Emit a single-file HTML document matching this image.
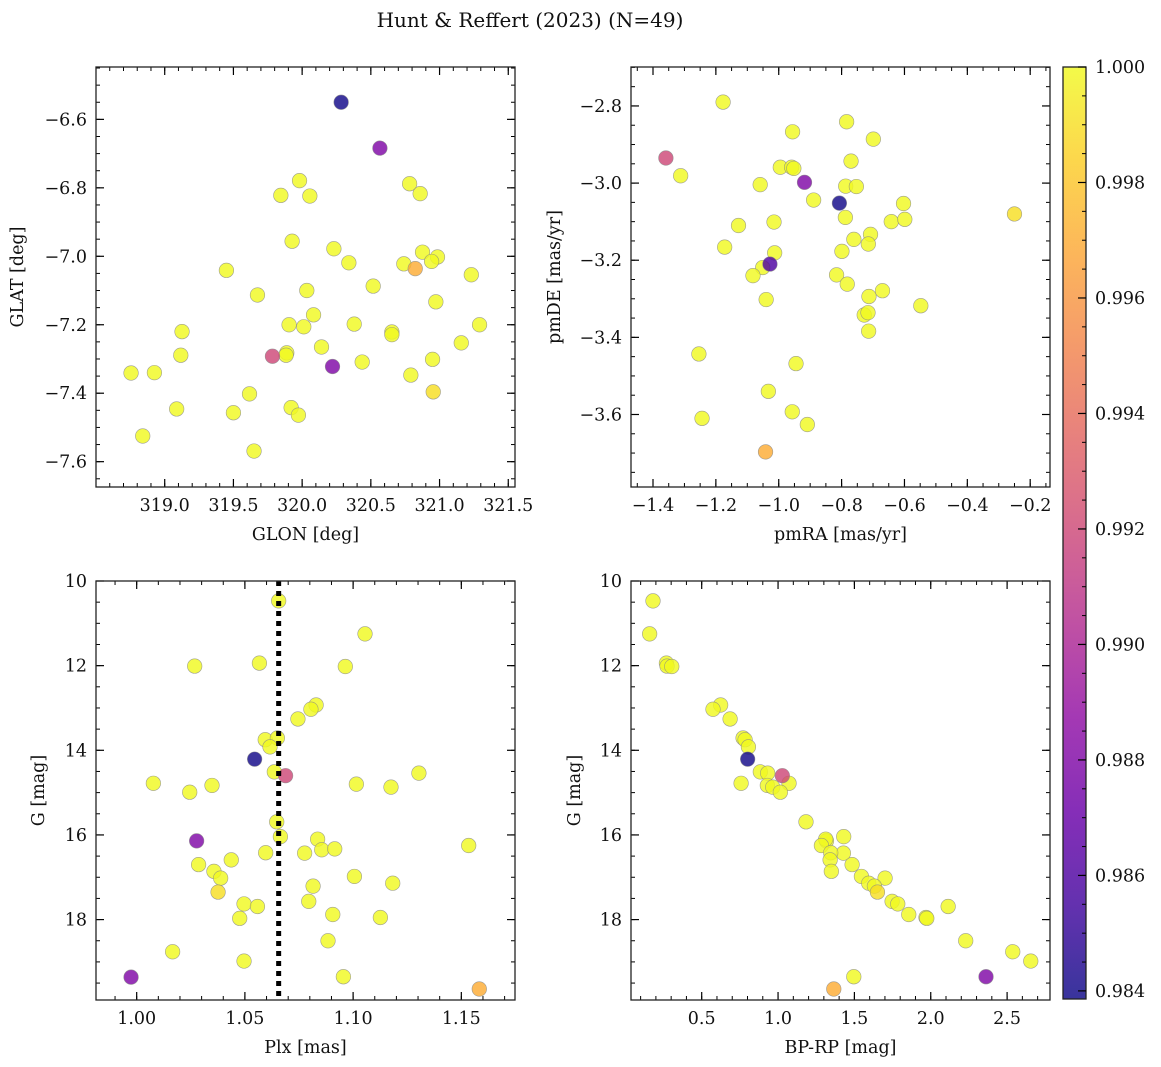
<!DOCTYPE html>
<html><head><meta charset="utf-8"><style>
html,body{margin:0;padding:0;background:#fff;}
svg{display:block;font-family:"DejaVu Serif","Liberation Serif",serif;}
</style></head><body>
<svg id="fig" width="1161" height="1067" viewBox="0 0 1161 1067">
<text x="530" y="27" font-size="20" text-anchor="middle" fill="#111">Hunt &amp; Reffert (2023) (N=49)</text>
</svg>
<script>
// ---- data ----
// Panel 1: GLON / GLAT / prob
const glon = [320.284,320.566,319.981,319.845,320.056,320.782,320.859,319.927,320.231,320.340,320.876,320.985,320.942,320.740,320.823,319.449,321.231,320.517,320.034,319.675,320.973,320.083,319.905,320.012,320.379,321.291,319.126,320.653,320.653,320.141,321.158,319.117,319.784,319.888,319.883,320.221,320.437,320.949,318.755,318.925,320.791,319.617,320.954,319.087,319.500,319.920,319.973,318.840,319.650];
const glat = [-6.550,-6.684,-6.779,-6.822,-6.824,-6.788,-6.817,-6.956,-6.978,-7.019,-6.988,-7.002,-7.015,-7.022,-7.036,-7.041,-7.054,-7.087,-7.100,-7.113,-7.133,-7.171,-7.200,-7.206,-7.198,-7.200,-7.220,-7.221,-7.229,-7.265,-7.253,-7.289,-7.292,-7.282,-7.289,-7.322,-7.309,-7.301,-7.341,-7.340,-7.347,-7.402,-7.396,-7.446,-7.457,-7.442,-7.464,-7.525,-7.569];
const prob1 = [0.984,0.988,1,1,1,1,1,1,1,1,1,1,1,1,0.997,1,1,1,1,1,1,1,1,1,1,1,1,1,1,1,1,1,0.992,1,1,0.988,1,1,1,1,1,1,0.999,1,1,1,1,1,1];
// Panel 2: pmRA / pmDE / prob
const pmra = [-1.177,-0.784,-0.956,-0.699,-1.359,-0.770,-1.312,-0.995,-0.959,-0.952,-0.918,-1.059,-0.787,-0.753,-0.889,-0.807,-0.603,-0.250,-0.788,-1.128,-1.015,-0.642,-0.599,-0.708,-0.761,-0.715,-1.172,-0.799,-1.013,-1.028,-1.051,-1.082,-0.816,-0.782,-0.670,-0.713,-1.040,-0.548,-0.728,-0.716,-0.714,-1.254,-0.945,-1.033,-0.957,-1.244,-0.909,-1.042];
const pmde = [-2.790,-2.841,-2.867,-2.886,-2.935,-2.943,-2.981,-2.959,-2.959,-2.962,-2.998,-3.004,-3.008,-3.009,-3.044,-3.052,-3.053,-3.080,-3.089,-3.110,-3.101,-3.100,-3.094,-3.133,-3.146,-3.158,-3.166,-3.177,-3.181,-3.210,-3.219,-3.240,-3.238,-3.262,-3.279,-3.294,-3.302,-3.318,-3.342,-3.336,-3.384,-3.443,-3.468,-3.540,-3.593,-3.610,-3.626,-3.697];
const prob2 = [1,1,1,1,0.992,1,1,1,1,1,0.988,1,1,1,1,0.984,1,0.999,1,1,1,1,1,1,1,1,1,1,1,0.986,1,1,1,1,1,1,1,1,1,1,1,1,1,1,1,1,1,0.997];
// Panel 3: Plx / G / prob
const plx = [1.0656,1.1055,1.0268,1.0567,1.0964,1.0829,1.0805,1.0745,1.0594,1.0650,1.0616,1.0545,1.0636,1.0688,1.0077,1.0348,1.0245,1.1015,1.1175,1.1304,1.0647,1.0664,1.0277,1.0836,1.0855,1.0915,1.0776,1.0596,1.1534,1.0437,1.0286,1.0357,1.0388,1.0376,1.1006,1.1183,1.0815,1.0496,1.0558,1.0795,1.0476,1.0906,1.1126,1.0884,1.0166,1.0496,1.0955,0.9974,1.1583];
const gmag3 = [10.47,11.25,12.01,11.94,12.02,12.93,13.03,13.26,13.75,13.71,13.92,14.21,14.51,14.60,14.78,14.83,14.99,14.80,14.87,14.54,15.69,16.04,16.14,16.10,16.35,16.33,16.43,16.42,16.25,16.59,16.70,16.86,17.02,17.35,16.98,17.14,17.21,17.63,17.69,17.57,17.97,17.88,17.95,18.50,18.76,18.98,19.35,19.36,19.64];
const prob3 = [1,1,1,1,1,1,1,1,1,1,1,0.984,1,0.992,1,1,1,1,1,1,1,1,0.988,1,1,1,1,1,1,1,1,1,1,0.999,1,1,1,1,1,1,1,1,1,1,1,1,1,0.988,0.997];
const plxRef = [1.0656];
// Panel 4: BP-RP / G / prob
const bprp = [0.181,0.159,0.269,0.273,0.304,0.624,0.574,0.686,0.771,0.784,0.806,0.801,0.884,1.028,0.758,0.932,0.930,0.965,1.072,1.015,1.183,1.317,1.312,1.430,1.284,1.428,1.345,1.341,1.485,1.349,1.546,1.701,1.594,1.631,1.651,1.747,1.784,2.114,1.856,1.969,1.974,2.229,2.537,2.655,1.496,2.362,1.365];
const gmag4 = [10.47,11.25,11.94,12.01,12.02,12.93,13.03,13.26,13.71,13.75,13.92,14.21,14.51,14.60,14.78,14.54,14.83,14.87,14.78,14.99,15.69,16.14,16.10,16.04,16.25,16.43,16.42,16.59,16.70,16.86,16.98,17.02,17.14,17.21,17.35,17.57,17.63,17.69,17.88,17.95,17.97,18.50,18.76,18.98,19.35,19.35,19.64];
const prob4 = [1,1,1,1,1,1,1,1,1,1,1,0.984,1,0.992,1,1,1,1,1,1,1,1,1,1,1,1,1,1,1,1,1,1,1,1,0.999,1,1,1,1,1,1,1,1,1,1,0.988,0.997];
// tick labels
const ticks1x = [319.0,319.5,320.0,320.5,321.0,321.5];
const ticks1y = [-6.6,-6.8,-7.0,-7.2,-7.4,-7.6];
const ticks2x = [-1.4,-1.2,-1.0,-0.8,-0.6,-0.4,-0.2];
const ticks2y = [-2.8,-3.0,-3.2,-3.4,-3.6];
const ticks3x = [1.00,1.05,1.10,1.15];
const ticksG = [10,12,14,16,18];
const ticks4x = [0.5,1.0,1.5,2.0,2.5];
const ticksCb = [1.000,0.998,0.996,0.994,0.992,0.990,0.988,0.986,0.984];

const NS="http://www.w3.org/2000/svg";
const svg=document.getElementById('fig');
const FS=17.5;
function mk(tag,attrs,parent){const e=document.createElementNS(NS,tag);for(const k in attrs)e.setAttribute(k,attrs[k]);(parent||svg).appendChild(e);return e;}
const VMIN=0.98386, VMAX=1.0;
const stops=[[0,[13,8,135]],[0.1,[65,4,157]],[0.2,[106,0,168]],[0.3,[143,13,164]],[0.4,[177,42,144]],[0.5,[204,71,120]],[0.6,[225,100,98]],[0.7,[242,132,75]],[0.8,[252,166,54]],[0.9,[252,206,37]],[1,[240,249,33]]];
function plasma(t){t=Math.max(0,Math.min(1,t));for(let i=1;i<stops.length;i++){if(t<=stops[i][0]){const a=stops[i-1],b=stops[i];const f=(t-a[0])/(b[0]-a[0]);const c=a[1].map((v,j)=>Math.round(v+(b[1][j]-v)*f));return `rgb(${c[0]},${c[1]},${c[2]})`;}}return 'rgb(240,249,33)';}
const fmt=(v,d)=>(v<0?'\u2212':'')+Math.abs(v).toFixed(d);

function panel(o){
  const g=mk('g',{});
  
  
  const sx=v=>o.x0+(v-o.xmin)/(o.xmax-o.xmin)*(o.x1-o.x0);
  const sy=o.yrev? v=>o.y0+(v-o.ymin)/(o.ymax-o.ymin)*(o.y1-o.y0) : v=>o.y1-(v-o.ymin)/(o.ymax-o.ymin)*(o.y1-o.y0);
  const idx=o.xs.map((_,i)=>i).sort((a,b)=>o.ps[b]-o.ps[a]);
  idx.forEach(i=>{
    const c=mk('circle',{cx:sx(o.xs[i]),cy:sy(o.ys[i]),r:7.3,fill:plasma((o.ps[i]-VMIN)/(VMAX-VMIN)),'fill-opacity':0.82,stroke:'#888','stroke-opacity':0.8,'stroke-width':0.6},g);
    
    
  });
  if(o.vline){
    const vl=mk('line',{x1:sx(o.vline[0]),x2:sx(o.vline[0]),y1:o.y0,y2:o.y1,stroke:'#000','stroke-width':5,'stroke-dasharray':'5 5'},g);
    
    
  }
  const tk=mk('g',{stroke:'#000','stroke-width':1},g);
  const minorX=[],minorY=[];
  for(let v=Math.ceil(o.xmin/o.mx-1e-6)*o.mx;v<=o.xmax+1e-9;v+=o.mx)minorX.push(v);
  for(let v=Math.ceil(o.ymin/o.my-1e-6)*o.my;v<=o.ymax+1e-9;v+=o.my)minorY.push(v);
  minorX.forEach(v=>{const x=sx(v);mk('line',{x1:x,x2:x,y1:o.y1,y2:o.y1-4},tk);mk('line',{x1:x,x2:x,y1:o.y0,y2:o.y0+4},tk);});
  minorY.forEach(v=>{const y=sy(v);mk('line',{x1:o.x0,x2:o.x0+4,y1:y,y2:y},tk);mk('line',{x1:o.x1,x2:o.x1-4,y1:y,y2:y},tk);});
  o.tx.forEach(v=>{const x=sx(v);mk('line',{x1:x,x2:x,y1:o.y1,y2:o.y1-8,'stroke-width':1.2},tk);mk('line',{x1:x,x2:x,y1:o.y0,y2:o.y0+8,'stroke-width':1.2},tk);
    const t=mk('text',{x:x,y:o.y1+24,'font-size':FS,'text-anchor':'middle',fill:'#111'},g);t.textContent=fmt(v,o.dx);
    
    });
  o.ty.forEach(v=>{const y=sy(v);mk('line',{x1:o.x0,x2:o.x0+8,y1:y,y2:y,'stroke-width':1.2},tk);mk('line',{x1:o.x1,x2:o.x1-8,y1:y,y2:y,'stroke-width':1.2},tk);
    const t=mk('text',{x:o.x0-9,y:y+6,'font-size':FS,'text-anchor':'end',fill:'#111'},g);t.textContent=fmt(v,o.dy);
    
    });
  const fr=mk('rect',{x:o.x0,y:o.y0,width:o.x1-o.x0,height:o.y1-o.y0,fill:'none',stroke:'#222','stroke-width':1.3},g);
  
  
  const xl=mk('text',{x:(o.x0+o.x1)/2,y:o.y1+53,'font-size':FS,'text-anchor':'middle',fill:'#111'},g);xl.textContent=o.xlab;
  
  
  const yl=mk('text',{x:0,y:0,'font-size':FS,'text-anchor':'middle',fill:'#111',transform:`translate(${o.ylx},${(o.y0+o.y1)/2}) rotate(-90)`},g);yl.textContent=o.ylab;
  
  
}
panel({name:'sky-position-panel',x0:96,x1:515,y0:67,y1:487,xmin:318.5,xmax:321.549,ymin:-7.674,ymax:-6.447,xs:glon,ys:glat,ps:prob1,tx:ticks1x,ty:ticks1y,dx:1,dy:1,mx:0.1,my:0.05,xlab:'GLON [deg]',ylab:'GLAT [deg]',ylx:23});
panel({name:'proper-motion-panel',x0:631,x1:1050,y0:67,y1:487,xmin:-1.47,xmax:-0.137,ymin:-3.788,ymax:-2.699,xs:pmra,ys:pmde,ps:prob2,tx:ticks2x,ty:ticks2y,dx:1,dy:1,mx:0.05,my:0.05,xlab:'pmRA [mas/yr]',ylab:'pmDE [mas/yr]',ylx:560});
panel({name:'parallax-magnitude-panel',x0:96,x1:515,y0:581,y1:1000,xmin:0.9812,xmax:1.1748,ymin:10.0,ymax:19.9,yrev:true,xs:plx,ys:gmag3,ps:prob3,tx:ticks3x,ty:ticksG,dx:2,dy:0,mx:0.01,my:0.5,xlab:'Plx [mas]',ylab:'G [mag]',ylx:44,vline:plxRef});
panel({name:'color-magnitude-panel',x0:631,x1:1050,y0:581,y1:1000,xmin:0.037,xmax:2.781,ymin:10.0,ymax:19.9,yrev:true,xs:bprp,ys:gmag4,ps:prob4,tx:ticks4x,ty:ticksG,dx:1,dy:0,mx:0.1,my:0.5,xlab:'BP-RP [mag]',ylab:'G [mag]',ylx:580});

// colorbar
const cb=mk('g',{});


const defs=mk('defs',{},cb);
const lg=mk('linearGradient',{id:'pl',x1:0,y1:1,x2:0,y2:0},defs);
for(let i=0;i<=20;i++){mk('stop',{offset:i/20,'stop-color':plasma(i/20),'stop-opacity':0.82},lg);}
const CB={x0:1063,x1:1086,y0:67,y1:999};
const cy=v=>CB.y1-(v-VMIN)/(VMAX-VMIN)*(CB.y1-CB.y0);
mk('rect',{x:CB.x0,y:CB.y0,width:CB.x1-CB.x0,height:CB.y1-CB.y0,fill:'url(#pl)',stroke:'#222','stroke-width':1.3},cb);
for(let v=0.9840;v<=1.00001;v+=0.0005){const y=cy(v);mk('line',{x1:CB.x1,x2:CB.x1-4,y1:y,y2:y,stroke:'#000'},cb);}
ticksCb.forEach(v=>{const y=cy(v);mk('line',{x1:CB.x1,x2:CB.x1-8,y1:y,y2:y,stroke:'#000','stroke-width':1.2},cb);
  const t=mk('text',{x:CB.x1+9,y:y+6,'font-size':FS,fill:'#111'},cb);t.textContent=v.toFixed(3);
  
  });
</script>
</body></html>
